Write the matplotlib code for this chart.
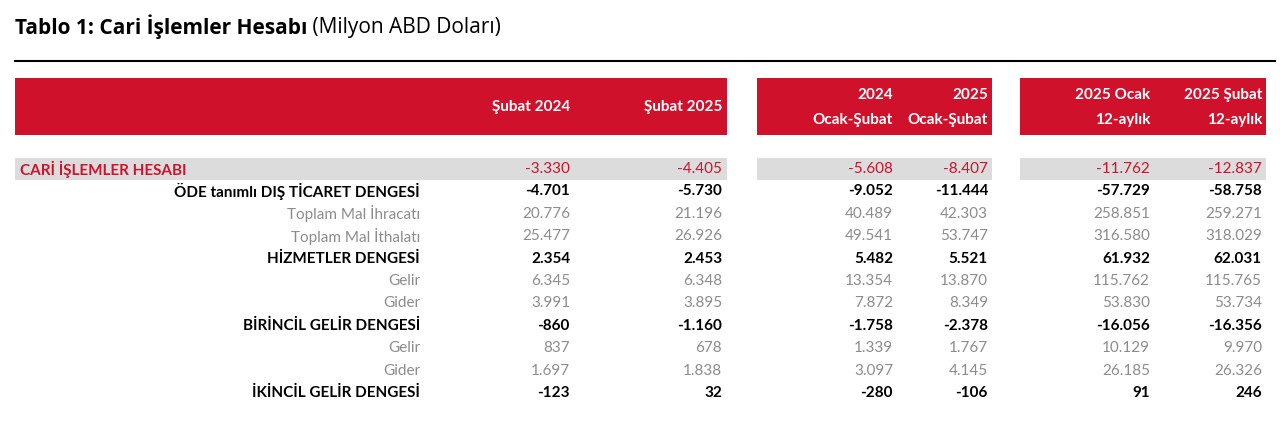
import matplotlib.pyplot as plt
from matplotlib.patches import Rectangle

plt.rcParams["font.family"] = "Lato"

title_bold = "Tablo 1: Cari İşlemler Hesabı"
title_rest = " (Milyon ABD Doları)"

headers = [("", "Şubat 2024"), ("", "Şubat 2025"), ("2024", "Ocak-Şubat"),
           ("2025", "Ocak-Şubat"), ("2025 Ocak", "12-aylık"), ("2025 Şubat", "12-aylık")]

labels = ["CARİ İŞLEMLER HESABI", "ÖDE tanımlı DIŞ TİCARET DENGESİ", "Toplam Mal İhracatı",
          "Toplam Mal İthalatı", "HİZMETLER DENGESİ", "Gelir", "Gider",
          "BİRİNCİL GELİR DENGESİ", "Gelir", "Gider", "İKİNCİL GELİR DENGESİ"]
kinds = ["main", "bold", "sub", "sub", "bold", "sub", "sub", "bold", "sub", "sub", "bold"]

values = [
    ["-3.330", "-4.405", "-5.608", "-8.407", "-11.762", "-12.837"],
    ["-4.701", "-5.730", "-9.052", "-11.444", "-57.729", "-58.758"],
    ["20.776", "21.196", "40.489", "42.303", "258.851", "259.271"],
    ["25.477", "26.926", "49.541", "53.747", "316.580", "318.029"],
    ["2.354", "2.453", "5.482", "5.521", "61.932", "62.031"],
    ["6.345", "6.348", "13.354", "13.870", "115.762", "115.765"],
    ["3.991", "3.895", "7.872", "8.349", "53.830", "53.734"],
    ["-860", "-1.160", "-1.758", "-2.378", "-16.056", "-16.356"],
    ["837", "678", "1.339", "1.767", "10.129", "9.970"],
    ["1.697", "1.838", "3.097", "4.145", "26.185", "26.326"],
    ["-123", "32", "-280", "-106", "91", "246"],
]

RED = "#D0112B"
GREY = "#8C8C8C"
col_x = [570, 722, 893, 988, 1150, 1262]
blocks = [(15, 727), (757, 992), (1020, 1266)]
FS = 11

fig = plt.figure(figsize=(12.8, 4.3), dpi=100)
ax = fig.add_axes([0, 0, 1, 1])
ax.set_xlim(0, 1280)
ax.set_ylim(430, 0)
ax.axis("off")

t = ax.text(15, 27, title_bold, fontsize=15, fontweight="bold", va="center", family="Open Sans")
fig.canvas.draw()
bb = t.get_window_extent()
ax.text(bb.x1, 27, title_rest, fontsize=15, va="center", family="Open Sans")
ax.plot([15, 1275], [61, 61], color="black", lw=1.5)

for x0, x1 in blocks:
    ax.add_patch(Rectangle((x0, 78), x1 - x0, 57, color=RED, lw=0))
    ax.add_patch(Rectangle((x0, 158), x1 - x0, 22, color="#DCDCDC", lw=0))

for (top, bot), x in zip(headers, col_x):
    if top:
        ax.text(x, 95, top, color="white", fontweight="bold", ha="right", va="center", fontsize=FS)
        ax.text(x, 120, bot, color="white", fontweight="bold", ha="right", va="center", fontsize=FS)
    else:
        ax.text(x, 107, bot, color="white", fontweight="bold", ha="right", va="center", fontsize=FS)

for i, (lab, kind, row) in enumerate(zip(labels, kinds, values)):
    y = 169 + i * 22.4
    if kind == "main":
        ax.text(20, y, lab, color=RED, fontweight="bold", ha="left", va="center", fontsize=FS)
        c, w = RED, "normal"
    elif kind == "bold":
        ax.text(420, y, lab, color="black", fontweight="bold", ha="right", va="center", fontsize=FS)
        c, w = "black", "bold"
    else:
        ax.text(420, y, lab, color=GREY, ha="right", va="center", fontsize=FS)
        c, w = GREY, "normal"
    for v, x in zip(row, col_x):
        ax.text(x, y, v, color=c, fontweight=w, ha="right", va="center", fontsize=FS)

fig.savefig("out.png", dpi=100, facecolor="white")
